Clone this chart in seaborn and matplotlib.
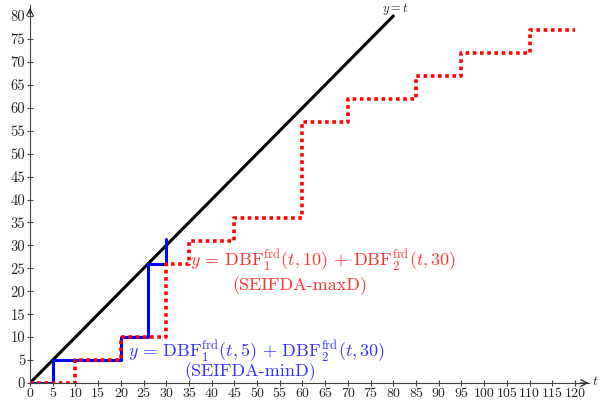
import numpy as np
import pandas as pd
import seaborn as sns
import matplotlib.pyplot as plt

# step curves
t_max = [0, 10, 20, 30, 35, 45, 60, 70, 85, 95, 110, 120]
y_max = [0, 5, 10, 26, 31, 36, 57, 62, 67, 72, 77, 77]
t_min = [0, 5, 20, 26, 30, 30]
y_min = [0, 5, 10, 26, 26, 31.5]
t_diag = [0, 80]
y_diag = [0, 80]
x_ticks = list(range(0, 121, 5))
y_ticks = list(range(0, 81, 5))

sns.set_theme(style="white")
plt.rcParams['font.family'] = ['cmr10', 'DejaVu Serif']
plt.rcParams['mathtext.fontset'] = 'cm'
plt.rcParams['axes.formatter.use_mathtext'] = True

fig = plt.figure(figsize=(6, 4.11), dpi=100)
ax = fig.add_axes([0.05, 0.0681, 0.931, 0.9197])

df_max = pd.DataFrame({'t': t_max, 'y': y_max})
df_min = pd.DataFrame({'t': t_min, 'y': y_min})
df_diag = pd.DataFrame({'t': t_diag, 'y': y_diag})

sns.lineplot(data=df_diag, x='t', y='y', color='black', lw=2.2, ax=ax,
             sort=False, estimator=None)
sns.lineplot(data=df_min, x='t', y='y', color='#0000ff', lw=2.2, ax=ax,
             sort=False, estimator=None, drawstyle='steps-post')
sns.lineplot(data=df_max, x='t', y='y', color='#ff0000', lw=2.6, ax=ax,
             sort=False, estimator=None, drawstyle='steps-post',
             linestyle=(0, (1, 1)))

ax.set_xlim(0, 123)
ax.set_ylim(0, 82.4)
ax.set_xlabel('')
ax.set_ylabel('')
for s in ['top', 'right']:
    ax.spines[s].set_visible(False)
for s in ['left', 'bottom']:
    ax.spines[s].set_color('#444444')
    ax.spines[s].set_linewidth(0.8)

ax.set_xticks(x_ticks)
ax.set_xticklabels([str(v) for v in x_ticks], fontsize=10)
ax.set_yticks(y_ticks)
ax.set_yticklabels([str(v) for v in y_ticks], fontsize=10.5)
ax.tick_params(direction='inout', length=5, width=0.8, color='#444444',
               pad=1, bottom=True, left=True)

# axis arrows
ax.annotate('', xy=(1.005, 0), xytext=(0.98, 0), xycoords='axes fraction',
            arrowprops=dict(arrowstyle='->', color='#222222', lw=0.8))
ax.annotate('', xy=(0, 1.0), xytext=(0, 0.97), xycoords='axes fraction',
            arrowprops=dict(arrowstyle='->', color='#222222', lw=0.8))
ax.text(1.0115, 0.003, r'$t$', transform=ax.transAxes, fontsize=10,
        va='center', ha='center')

ax.text(80.5, 80.9, r'$y = t$', fontsize=9, ha='center', va='baseline')

ax.text(35.3, 25.6, r'$y\,=\,\mathrm{DBF}_1^{\mathrm{frd}}(t, 10)\,+\,\mathrm{DBF}_2^{\mathrm{frd}}(t, 30)$',
        color='#ff3333', fontsize=13, ha='left', va='baseline')
ax.text(59.5, 20.3, '(SEIFDA-maxD)', color='#ff3333', fontsize=13,
        ha='center', va='baseline')
ax.text(21.5, 5.8, r'$y\,=\,\mathrm{DBF}_1^{\mathrm{frd}}(t, 5)\,+\,\mathrm{DBF}_2^{\mathrm{frd}}(t, 30)$',
        color='#3333ff', fontsize=13, ha='left', va='baseline')
ax.text(48.5, 1.4, '(SEIFDA-minD)', color='#3333ff', fontsize=13,
        ha='center', va='baseline')

fig.savefig('out.png', dpi=100)
